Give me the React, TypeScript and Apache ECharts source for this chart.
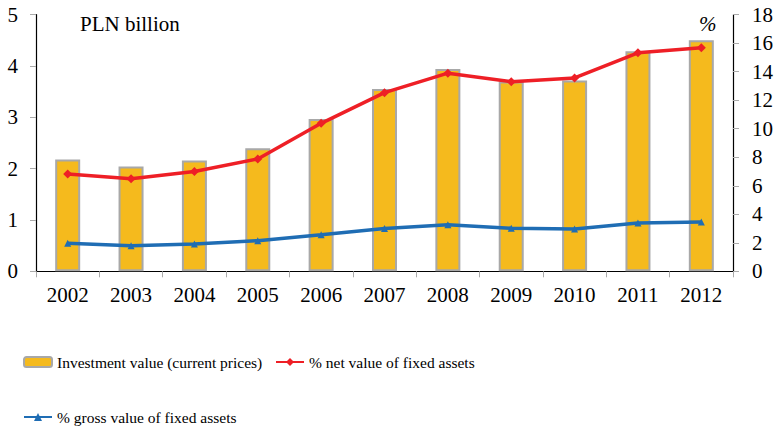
import React, { useEffect, useRef } from "react";
import * as echarts from "echarts";

const years = ["2002", "2003", "2004", "2005", "2006", "2007", "2008", "2009", "2010", "2011", "2012"];
const investment = [2.18, 2.04, 2.16, 2.40, 2.97, 3.55, 3.94, 3.70, 3.72, 4.29, 4.50];
const netPct = [6.82, 6.5, 7.0, 7.88, 10.38, 12.53, 13.9, 13.3, 13.56, 15.33, 15.68];
const grossPct = [1.96, 1.8, 1.91, 2.15, 2.57, 3.0, 3.27, 3.02, 2.97, 3.39, 3.46];

const SERIF = "Liberation Serif";
const NAMES = [
  "Investment value (current prices)",
  "% net value of fixed assets",
  "% gross value of fixed assets",
];

export default function App() {
  const ref = useRef<HTMLDivElement>(null);
  useEffect(() => {
    if (!ref.current) return;
    const chart = echarts.init(ref.current, null, { renderer: "svg" });
    const legendText = { fontFamily: SERIF, fontSize: 15.5, color: "#000" };
    const axisLabel = { fontFamily: SERIF, fontSize: 21, color: "#000" };
    chart.setOption({
      animation: false,
      backgroundColor: "#fff",
      textStyle: { fontFamily: SERIF },
      grid: { left: 36, right: 40, top: 14.7, bottom: 157.7, containLabel: false },
      legend: [
        { data: [NAMES[0]], left: 23, top: 354, itemWidth: 28, itemHeight: 10, textStyle: legendText, padding: 0 },
        { data: [NAMES[1]], left: 275, top: 354, itemWidth: 28, itemHeight: 10, textStyle: legendText, padding: 0 },
        { data: [NAMES[2]], left: 23, top: 409, itemWidth: 28, itemHeight: 10, textStyle: legendText, padding: 0 },
      ],
      xAxis: {
        type: "category",
        data: years,
        boundaryGap: true,
        axisLine: { lineStyle: { color: "#000", width: 1.2 } },
        axisTick: { show: true, alignWithLabel: false, length: 6, lineStyle: { color: "#aaa" } },
        axisLabel: { ...axisLabel, margin: 13 },
        splitLine: { show: false },
      },
      yAxis: [
        {
          type: "value",
          min: 0,
          max: 5,
          interval: 1,
          axisLine: { show: true, lineStyle: { color: "#000", width: 1.2 } },
          axisTick: { show: true, length: 6, lineStyle: { color: "#aaa" } },
          axisLabel: { ...axisLabel, margin: 18 },
          splitLine: { show: false },
        },
        {
          type: "value",
          min: 0,
          max: 18,
          interval: 2,
          position: "right",
          axisLine: { show: true, lineStyle: { color: "#000", width: 1.2 } },
          axisTick: { show: true, length: 6, lineStyle: { color: "#aaa" } },
          axisLabel: { ...axisLabel, margin: 19 },
          splitLine: { show: false },
        },
      ],
      graphic: [
        {
          type: "text",
          left: 80,
          top: 13,
          style: { text: "PLN billion", fontFamily: SERIF, fontSize: 21, fill: "#000" },
        },
        {
          type: "text",
          left: 699,
          top: 13,
          style: { text: "%", fontFamily: SERIF, fontSize: 21, fontStyle: "italic", fill: "#000" },
        },
      ],
      series: [
        {
          name: NAMES[0],
          type: "bar",
          yAxisIndex: 0,
          data: investment,
          barWidth: 25,
          itemStyle: { color: "#F5BA1D", borderColor: "#A8A8A8", borderWidth: 2 },
        },
        {
          name: NAMES[1],
          type: "line",
          yAxisIndex: 1,
          data: netPct,
          symbol: "diamond",
          symbolSize: 9,
          lineStyle: { color: "#EE1F26", width: 3.5 },
          itemStyle: { color: "#EE1F26" },
          z: 3,
        },
        {
          name: NAMES[2],
          type: "line",
          yAxisIndex: 1,
          data: grossPct,
          symbol: "triangle",
          symbolSize: 7,
          lineStyle: { color: "#1F6DB4", width: 3.5 },
          itemStyle: { color: "#1F6DB4" },
          z: 3,
        },
      ],
    });
    return () => chart.dispose();
  }, []);
  return <div ref={ref} style={{ width: 776, height: 429, position: "fixed", left: 0, top: 0 }} />;
}
